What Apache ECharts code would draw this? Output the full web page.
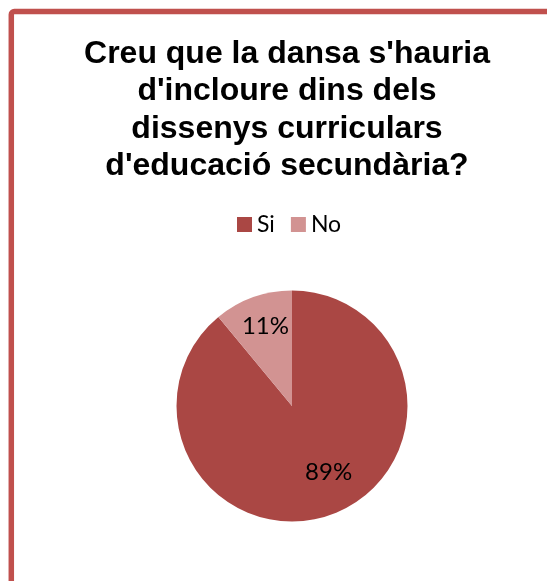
<!DOCTYPE html>
<html>
<head>
<meta charset="utf-8">
<style>
  html, body { margin: 0; padding: 0; background: #ffffff; }
  #chart { width: 547px; height: 581px; }
</style>
<script src="https://cdn.jsdelivr.net/npm/echarts@6/dist/echarts.min.js"></script>
</head>
<body>
<div id="chart"></div>
<script>
// Survey answers and their shares (percent)
const categories = ['Si', 'No'];
const shares = [89, 11];
const sliceColors = ['#AA4744', '#D29392'];
const titleText = "Creu que la dansa s'hauria\nd'incloure dins dels\ndissenys curriculars\nd'educació secundària?";

// Per-slice label nudges so the percentages sit where they read best
const labelOffsets = [[16, 9], [-6, -23]];

const chart = echarts.init(document.getElementById('chart'), null, { renderer: 'canvas' });

const pieData = categories.map((name, i) => ({
  name: name,
  value: shares[i],
  itemStyle: { color: sliceColors[i] },
  label: { offset: labelOffsets[i] }
}));

chart.setOption({
  animation: false,
  backgroundColor: '#ffffff',
  title: {
    text: titleText,
    left: 282,
    textAlign: 'center',
    top: 30,
    textStyle: {
      fontFamily: 'Liberation Sans, Arial, sans-serif',
      fontWeight: 'bold',
      fontSize: 32,
      lineHeight: 37.5,
      color: '#000000'
    }
  },
  legend: {
    data: categories,
    top: 208,
    left: 232,
    itemWidth: 15,
    itemHeight: 15,
    itemGap: 16,
    icon: 'rect',
    textStyle: {
      fontFamily: 'Lato, sans-serif',
      fontSize: 23,
      color: '#000000'
    }
  },
  graphic: [{
    type: 'rect',
    silent: true,
    z: 100,
    shape: { x: 11.3, y: 11.5, width: 700, height: 700, r: 3 },
    style: { fill: 'none', stroke: '#C0504D', lineWidth: 5.5 }
  }],
  series: [{
    type: 'pie',
    center: [292, 406],
    radius: [0, 115.5],
    startAngle: 90,
    clockwise: true,
    avoidLabelOverlap: false,
    data: pieData,
    label: {
      show: true,
      position: 'inside',
      formatter: '{c}%',
      fontFamily: 'Lato, sans-serif',
      fontSize: 24,
      color: '#000000'
    },
    labelLine: { show: false },
    emphasis: { disabled: true }
  }]
});
</script>
</body>
</html>
